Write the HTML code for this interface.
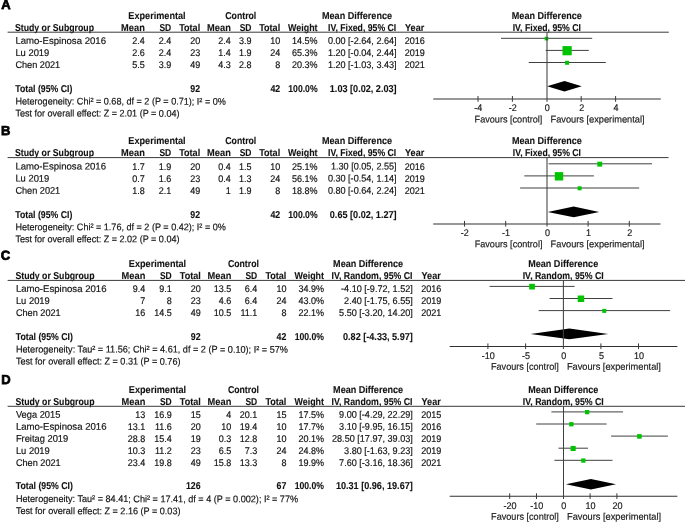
<!DOCTYPE html>
<html lang="en"><head><meta charset="utf-8"><title>Forest plots</title>
<style>
html,body{margin:0;padding:0;background:#fff;}
body{width:685px;height:522px;overflow:hidden;}
svg{display:block;font-family:"Liberation Sans",Arial,sans-serif;font-size:9.7px;fill:#111;}
svg text{white-space:pre;text-rendering:geometricPrecision;stroke:#111;stroke-width:0.17px;}
svg text.b{stroke-width:0.1px;}
</style></head><body>
<svg width="685" height="522" viewBox="0 0 685 522">
<rect x="0" y="0" width="685" height="522" fill="#fff"/>
<text x="1.3" y="9.0" font-weight="700" font-size="13" fill="#000" style="stroke:#000;stroke-width:0.75px;stroke-linejoin:miter" transform="rotate(0.03 5 9.0)">A</text>
<text x="157.0" y="18.70" text-anchor="middle" font-weight="700" textLength="57.3" lengthAdjust="spacingAndGlyphs" font-size="10.0" class="b" transform="rotate(0.03 157 18.7)">Experimental</text>
<text x="240.8" y="18.70" text-anchor="middle" font-weight="700" textLength="31.0" lengthAdjust="spacingAndGlyphs" font-size="10.0" class="b" transform="rotate(0.03 241 18.7)">Control</text>
<text x="357.0" y="18.70" text-anchor="middle" font-weight="700" textLength="70.0" lengthAdjust="spacingAndGlyphs" font-size="10.0" class="b" transform="rotate(0.03 357 18.7)">Mean Difference</text>
<text x="546.8" y="18.70" text-anchor="middle" font-weight="700" textLength="70.0" lengthAdjust="spacingAndGlyphs" font-size="10.0" class="b" transform="rotate(0.03 547 18.7)">Mean Difference</text>
<text x="14.9" y="31.00" font-weight="700" textLength="79.1" lengthAdjust="spacingAndGlyphs" font-size="10.0" class="b" transform="rotate(0.03 54 31.0)">Study or Subgroup</text>
<text x="144.8" y="31.00" text-anchor="end" font-weight="700" textLength="23.7" lengthAdjust="spacingAndGlyphs" font-size="10.0" class="b" transform="rotate(0.03 133 31.0)">Mean</text>
<text x="171.2" y="31.00" text-anchor="end" font-weight="700" textLength="11.8" lengthAdjust="spacingAndGlyphs" font-size="10.0" class="b" transform="rotate(0.03 165 31.0)">SD</text>
<text x="200.2" y="31.00" text-anchor="end" font-weight="700" textLength="21.0" lengthAdjust="spacingAndGlyphs" font-size="10.0" class="b" transform="rotate(0.03 190 31.0)">Total</text>
<text x="230.8" y="31.00" text-anchor="end" font-weight="700" textLength="23.7" lengthAdjust="spacingAndGlyphs" font-size="10.0" class="b" transform="rotate(0.03 219 31.0)">Mean</text>
<text x="251.5" y="31.00" text-anchor="end" font-weight="700" textLength="11.8" lengthAdjust="spacingAndGlyphs" font-size="10.0" class="b" transform="rotate(0.03 246 31.0)">SD</text>
<text x="280.2" y="31.00" text-anchor="end" font-weight="700" textLength="21.0" lengthAdjust="spacingAndGlyphs" font-size="10.0" class="b" transform="rotate(0.03 270 31.0)">Total</text>
<text x="317.6" y="31.00" text-anchor="end" font-weight="700" textLength="29.5" lengthAdjust="spacingAndGlyphs" font-size="10.0" class="b" transform="rotate(0.03 303 31.0)">Weight</text>
<text x="328.0" y="31.00" font-weight="700" textLength="68.2" lengthAdjust="spacingAndGlyphs" font-size="10.0" class="b" transform="rotate(0.03 362 31.0)">IV, Fixed, 95% CI</text>
<text x="405.1" y="31.00" font-weight="700" textLength="19.1" lengthAdjust="spacingAndGlyphs" font-size="10.0" class="b" transform="rotate(0.03 415 31.0)">Year</text>
<text x="546.8" y="31.00" text-anchor="middle" font-weight="700" textLength="68.2" lengthAdjust="spacingAndGlyphs" font-size="10.0" class="b" transform="rotate(0.03 547 31.0)">IV, Fixed, 95% CI</text>
<line x1="7.6" y1="32.2" x2="668.8" y2="32.2" stroke="#3a3a3a" stroke-width="1"/>
<text x="15.4" y="43.90" textLength="90.6" lengthAdjust="spacingAndGlyphs" transform="rotate(0.03 61 43.9)">Lamo-Espinosa 2016</text>
<text x="144.8" y="43.90" text-anchor="end" textLength="12.5" lengthAdjust="spacingAndGlyphs" transform="rotate(0.03 139 43.9)">2.4</text>
<text x="171.2" y="43.90" text-anchor="end" textLength="12.5" lengthAdjust="spacingAndGlyphs" transform="rotate(0.03 165 43.9)">2.4</text>
<text x="200.2" y="43.90" text-anchor="end" textLength="10.0" lengthAdjust="spacingAndGlyphs" transform="rotate(0.03 195 43.9)">20</text>
<text x="230.8" y="43.90" text-anchor="end" textLength="12.5" lengthAdjust="spacingAndGlyphs" transform="rotate(0.03 225 43.9)">2.4</text>
<text x="251.5" y="43.90" text-anchor="end" textLength="12.5" lengthAdjust="spacingAndGlyphs" transform="rotate(0.03 245 43.9)">3.9</text>
<text x="280.2" y="43.90" text-anchor="end" textLength="10.0" lengthAdjust="spacingAndGlyphs" transform="rotate(0.03 275 43.9)">10</text>
<text x="317.6" y="43.90" text-anchor="end" textLength="25.5" lengthAdjust="spacingAndGlyphs" transform="rotate(0.03 305 43.9)">14.5%</text>
<text x="396.6" y="43.90" text-anchor="end" textLength="68.7" lengthAdjust="spacingAndGlyphs" transform="rotate(0.03 362 43.9)">0.00 [-2.64, 2.64]</text>
<text x="404.8" y="43.90" textLength="20.1" lengthAdjust="spacingAndGlyphs" transform="rotate(0.03 415 43.9)">2016</text>
<line x1="501.0" y1="38.3" x2="592.2" y2="38.3" stroke="#404040" stroke-width="1"/>
<rect x="544.7" y="36.8" width="3.6" height="3.6" fill="#00c400"/>
<text x="15.4" y="55.98" textLength="33.9" lengthAdjust="spacingAndGlyphs" transform="rotate(0.03 32 56.0)">Lu 2019</text>
<text x="144.8" y="55.98" text-anchor="end" textLength="12.5" lengthAdjust="spacingAndGlyphs" transform="rotate(0.03 139 56.0)">2.6</text>
<text x="171.2" y="55.98" text-anchor="end" textLength="12.5" lengthAdjust="spacingAndGlyphs" transform="rotate(0.03 165 56.0)">2.4</text>
<text x="200.2" y="55.98" text-anchor="end" textLength="10.0" lengthAdjust="spacingAndGlyphs" transform="rotate(0.03 195 56.0)">23</text>
<text x="230.8" y="55.98" text-anchor="end" textLength="12.5" lengthAdjust="spacingAndGlyphs" transform="rotate(0.03 225 56.0)">1.4</text>
<text x="251.5" y="55.98" text-anchor="end" textLength="12.5" lengthAdjust="spacingAndGlyphs" transform="rotate(0.03 245 56.0)">1.9</text>
<text x="280.2" y="55.98" text-anchor="end" textLength="10.0" lengthAdjust="spacingAndGlyphs" transform="rotate(0.03 275 56.0)">24</text>
<text x="317.6" y="55.98" text-anchor="end" textLength="25.5" lengthAdjust="spacingAndGlyphs" transform="rotate(0.03 305 56.0)">65.3%</text>
<text x="396.6" y="55.98" text-anchor="end" textLength="68.7" lengthAdjust="spacingAndGlyphs" transform="rotate(0.03 362 56.0)">1.20 [-0.04, 2.44]</text>
<text x="404.8" y="55.98" textLength="20.1" lengthAdjust="spacingAndGlyphs" transform="rotate(0.03 415 56.0)">2019</text>
<line x1="545.7" y1="50.4" x2="588.8" y2="50.4" stroke="#404040" stroke-width="1"/>
<rect x="562.5" y="46.1" width="9.2" height="9.2" fill="#00c400"/>
<text x="15.4" y="68.06" textLength="44.8" lengthAdjust="spacingAndGlyphs" transform="rotate(0.03 38 68.1)">Chen 2021</text>
<text x="144.8" y="68.06" text-anchor="end" textLength="12.5" lengthAdjust="spacingAndGlyphs" transform="rotate(0.03 139 68.1)">5.5</text>
<text x="171.2" y="68.06" text-anchor="end" textLength="12.5" lengthAdjust="spacingAndGlyphs" transform="rotate(0.03 165 68.1)">3.9</text>
<text x="200.2" y="68.06" text-anchor="end" textLength="10.0" lengthAdjust="spacingAndGlyphs" transform="rotate(0.03 195 68.1)">49</text>
<text x="230.8" y="68.06" text-anchor="end" textLength="12.5" lengthAdjust="spacingAndGlyphs" transform="rotate(0.03 225 68.1)">4.3</text>
<text x="251.5" y="68.06" text-anchor="end" textLength="12.5" lengthAdjust="spacingAndGlyphs" transform="rotate(0.03 245 68.1)">2.8</text>
<text x="280.2" y="68.06" text-anchor="end" textLength="5.0" lengthAdjust="spacingAndGlyphs" transform="rotate(0.03 278 68.1)">8</text>
<text x="317.6" y="68.06" text-anchor="end" textLength="25.5" lengthAdjust="spacingAndGlyphs" transform="rotate(0.03 305 68.1)">20.3%</text>
<text x="396.6" y="68.06" text-anchor="end" textLength="68.7" lengthAdjust="spacingAndGlyphs" transform="rotate(0.03 362 68.1)">1.20 [-1.03, 3.43]</text>
<text x="404.8" y="68.06" textLength="20.1" lengthAdjust="spacingAndGlyphs" transform="rotate(0.03 415 68.1)">2021</text>
<line x1="528.7" y1="62.5" x2="605.8" y2="62.5" stroke="#404040" stroke-width="1"/>
<rect x="565.1" y="60.8" width="4.0" height="4.0" fill="#00c400"/>
<text x="15.3" y="91.90" font-weight="700" textLength="57.0" lengthAdjust="spacingAndGlyphs" font-size="10.0" class="b" transform="rotate(0.03 44 91.9)">Total (95% CI)</text>
<text x="200.1" y="91.90" text-anchor="end" font-weight="700" textLength="9.8" lengthAdjust="spacingAndGlyphs" font-size="10.0" class="b" transform="rotate(0.03 195 91.9)">92</text>
<text x="280.2" y="91.90" text-anchor="end" font-weight="700" textLength="9.8" lengthAdjust="spacingAndGlyphs" font-size="10.0" class="b" transform="rotate(0.03 275 91.9)">42</text>
<text x="317.6" y="91.90" text-anchor="end" font-weight="700" textLength="29.3" lengthAdjust="spacingAndGlyphs" font-size="10.0" class="b" transform="rotate(0.03 303 91.9)">100.0%</text>
<text x="396.6" y="91.90" text-anchor="end" font-weight="700" textLength="66.8" lengthAdjust="spacingAndGlyphs" font-size="10.0" class="b" transform="rotate(0.03 363 91.9)">1.03 [0.02, 2.03]</text>
<text x="15.4" y="104.60" textLength="210.4" lengthAdjust="spacingAndGlyphs" transform="rotate(0.03 121 104.6)">Heterogeneity: Chi² = 0.68, df = 2 (P = 0.71); I² = 0%</text>
<text x="15.4" y="116.60" textLength="164.1" lengthAdjust="spacingAndGlyphs" transform="rotate(0.03 97 116.6)">Test for overall effect: Z = 2.01 (P = 0.04)</text>
<polygon points="547.1,86.2 564.5,81.0 581.7,86.2 564.5,91.5" fill="#000"/>
<line x1="433.2" y1="99.0" x2="660.8" y2="99.0" stroke="#303030" stroke-width="1.05"/>
<line x1="547.0" y1="32.2" x2="547.0" y2="101.8" stroke="#404040" stroke-width="1.05"/>
<line x1="478.0" y1="96.0" x2="478.0" y2="101.8" stroke="#3a3a3a" stroke-width="1"/>
<text x="478.3" y="111.25" text-anchor="middle" textLength="8.0" lengthAdjust="spacingAndGlyphs" fill="#222" transform="rotate(0.03 478 111.2)">-4</text>
<line x1="512.4" y1="96.0" x2="512.4" y2="101.8" stroke="#3a3a3a" stroke-width="1"/>
<text x="512.7" y="111.25" text-anchor="middle" textLength="8.0" lengthAdjust="spacingAndGlyphs" fill="#222" transform="rotate(0.03 513 111.2)">-2</text>
<text x="547.3" y="111.25" text-anchor="middle" textLength="5.0" lengthAdjust="spacingAndGlyphs" fill="#222" transform="rotate(0.03 547 111.2)">0</text>
<line x1="581.2" y1="96.0" x2="581.2" y2="101.8" stroke="#3a3a3a" stroke-width="1"/>
<text x="581.7" y="111.25" text-anchor="middle" textLength="5.0" lengthAdjust="spacingAndGlyphs" fill="#222" transform="rotate(0.03 582 111.2)">2</text>
<line x1="615.6" y1="96.0" x2="615.6" y2="101.8" stroke="#3a3a3a" stroke-width="1"/>
<text x="616.1" y="111.25" text-anchor="middle" textLength="5.0" lengthAdjust="spacingAndGlyphs" fill="#222" transform="rotate(0.03 616 111.2)">4</text>
<text x="474.6" y="122.42" textLength="67.8" lengthAdjust="spacingAndGlyphs" fill="#222" transform="rotate(0.03 508 122.4)">Favours [control]</text>
<text x="550.5" y="122.42" textLength="94.0" lengthAdjust="spacingAndGlyphs" fill="#222" transform="rotate(0.03 598 122.4)">Favours [experimental]</text>
<text x="1.0" y="135.0" font-weight="700" font-size="13" fill="#000" style="stroke:#000;stroke-width:0.75px;stroke-linejoin:miter" transform="rotate(0.03 5 135.0)">B</text>
<text x="157.0" y="144.05" text-anchor="middle" font-weight="700" textLength="57.3" lengthAdjust="spacingAndGlyphs" font-size="10.0" class="b" transform="rotate(0.03 157 144.0)">Experimental</text>
<text x="240.8" y="144.05" text-anchor="middle" font-weight="700" textLength="31.0" lengthAdjust="spacingAndGlyphs" font-size="10.0" class="b" transform="rotate(0.03 241 144.0)">Control</text>
<text x="357.0" y="144.05" text-anchor="middle" font-weight="700" textLength="70.0" lengthAdjust="spacingAndGlyphs" font-size="10.0" class="b" transform="rotate(0.03 357 144.0)">Mean Difference</text>
<text x="546.9" y="144.05" text-anchor="middle" font-weight="700" textLength="70.0" lengthAdjust="spacingAndGlyphs" font-size="10.0" class="b" transform="rotate(0.03 547 144.0)">Mean Difference</text>
<text x="14.9" y="156.35" font-weight="700" textLength="79.1" lengthAdjust="spacingAndGlyphs" font-size="10.0" class="b" transform="rotate(0.03 54 156.3)">Study or Subgroup</text>
<text x="144.8" y="156.35" text-anchor="end" font-weight="700" textLength="23.7" lengthAdjust="spacingAndGlyphs" font-size="10.0" class="b" transform="rotate(0.03 133 156.3)">Mean</text>
<text x="171.2" y="156.35" text-anchor="end" font-weight="700" textLength="11.8" lengthAdjust="spacingAndGlyphs" font-size="10.0" class="b" transform="rotate(0.03 165 156.3)">SD</text>
<text x="200.2" y="156.35" text-anchor="end" font-weight="700" textLength="21.0" lengthAdjust="spacingAndGlyphs" font-size="10.0" class="b" transform="rotate(0.03 190 156.3)">Total</text>
<text x="230.8" y="156.35" text-anchor="end" font-weight="700" textLength="23.7" lengthAdjust="spacingAndGlyphs" font-size="10.0" class="b" transform="rotate(0.03 219 156.3)">Mean</text>
<text x="251.5" y="156.35" text-anchor="end" font-weight="700" textLength="11.8" lengthAdjust="spacingAndGlyphs" font-size="10.0" class="b" transform="rotate(0.03 246 156.3)">SD</text>
<text x="280.2" y="156.35" text-anchor="end" font-weight="700" textLength="21.0" lengthAdjust="spacingAndGlyphs" font-size="10.0" class="b" transform="rotate(0.03 270 156.3)">Total</text>
<text x="317.6" y="156.35" text-anchor="end" font-weight="700" textLength="29.5" lengthAdjust="spacingAndGlyphs" font-size="10.0" class="b" transform="rotate(0.03 303 156.3)">Weight</text>
<text x="328.0" y="156.35" font-weight="700" textLength="68.2" lengthAdjust="spacingAndGlyphs" font-size="10.0" class="b" transform="rotate(0.03 362 156.3)">IV, Fixed, 95% CI</text>
<text x="405.1" y="156.35" font-weight="700" textLength="19.1" lengthAdjust="spacingAndGlyphs" font-size="10.0" class="b" transform="rotate(0.03 415 156.3)">Year</text>
<text x="546.9" y="156.35" text-anchor="middle" font-weight="700" textLength="68.2" lengthAdjust="spacingAndGlyphs" font-size="10.0" class="b" transform="rotate(0.03 547 156.3)">IV, Fixed, 95% CI</text>
<line x1="7.6" y1="157.6" x2="668.5" y2="157.6" stroke="#3a3a3a" stroke-width="1"/>
<text x="15.4" y="169.58" textLength="90.6" lengthAdjust="spacingAndGlyphs" transform="rotate(0.03 61 169.6)">Lamo-Espinosa 2016</text>
<text x="144.8" y="169.58" text-anchor="end" textLength="12.5" lengthAdjust="spacingAndGlyphs" transform="rotate(0.03 139 169.6)">1.7</text>
<text x="171.2" y="169.58" text-anchor="end" textLength="12.5" lengthAdjust="spacingAndGlyphs" transform="rotate(0.03 165 169.6)">1.9</text>
<text x="200.2" y="169.58" text-anchor="end" textLength="10.0" lengthAdjust="spacingAndGlyphs" transform="rotate(0.03 195 169.6)">20</text>
<text x="230.8" y="169.58" text-anchor="end" textLength="12.5" lengthAdjust="spacingAndGlyphs" transform="rotate(0.03 225 169.6)">0.4</text>
<text x="251.5" y="169.58" text-anchor="end" textLength="12.5" lengthAdjust="spacingAndGlyphs" transform="rotate(0.03 245 169.6)">1.5</text>
<text x="280.2" y="169.58" text-anchor="end" textLength="10.0" lengthAdjust="spacingAndGlyphs" transform="rotate(0.03 275 169.6)">10</text>
<text x="317.6" y="169.58" text-anchor="end" textLength="25.5" lengthAdjust="spacingAndGlyphs" transform="rotate(0.03 305 169.6)">25.1%</text>
<text x="396.6" y="169.58" text-anchor="end" textLength="65.6" lengthAdjust="spacingAndGlyphs" transform="rotate(0.03 364 169.6)">1.30 [0.05, 2.55]</text>
<text x="404.8" y="169.58" textLength="20.1" lengthAdjust="spacingAndGlyphs" transform="rotate(0.03 415 169.6)">2016</text>
<line x1="548.6" y1="163.8" x2="652.0" y2="163.8" stroke="#404040" stroke-width="1"/>
<rect x="597.3" y="161.7" width="4.9" height="4.9" fill="#00c400"/>
<text x="15.4" y="181.63" textLength="33.9" lengthAdjust="spacingAndGlyphs" transform="rotate(0.03 32 181.6)">Lu 2019</text>
<text x="144.8" y="181.63" text-anchor="end" textLength="12.5" lengthAdjust="spacingAndGlyphs" transform="rotate(0.03 139 181.6)">0.7</text>
<text x="171.2" y="181.63" text-anchor="end" textLength="12.5" lengthAdjust="spacingAndGlyphs" transform="rotate(0.03 165 181.6)">1.6</text>
<text x="200.2" y="181.63" text-anchor="end" textLength="10.0" lengthAdjust="spacingAndGlyphs" transform="rotate(0.03 195 181.6)">23</text>
<text x="230.8" y="181.63" text-anchor="end" textLength="12.5" lengthAdjust="spacingAndGlyphs" transform="rotate(0.03 225 181.6)">0.4</text>
<text x="251.5" y="181.63" text-anchor="end" textLength="12.5" lengthAdjust="spacingAndGlyphs" transform="rotate(0.03 245 181.6)">1.3</text>
<text x="280.2" y="181.63" text-anchor="end" textLength="10.0" lengthAdjust="spacingAndGlyphs" transform="rotate(0.03 275 181.6)">24</text>
<text x="317.6" y="181.63" text-anchor="end" textLength="25.5" lengthAdjust="spacingAndGlyphs" transform="rotate(0.03 305 181.6)">56.1%</text>
<text x="396.6" y="181.63" text-anchor="end" textLength="68.7" lengthAdjust="spacingAndGlyphs" transform="rotate(0.03 362 181.6)">0.30 [-0.54, 1.14]</text>
<text x="404.8" y="181.63" textLength="20.1" lengthAdjust="spacingAndGlyphs" transform="rotate(0.03 415 181.6)">2019</text>
<line x1="524.3" y1="175.9" x2="593.9" y2="175.9" stroke="#404040" stroke-width="1"/>
<rect x="554.8" y="172.1" width="8.4" height="8.4" fill="#00c400"/>
<text x="15.4" y="193.71" textLength="44.8" lengthAdjust="spacingAndGlyphs" transform="rotate(0.03 38 193.7)">Chen 2021</text>
<text x="144.8" y="193.71" text-anchor="end" textLength="12.5" lengthAdjust="spacingAndGlyphs" transform="rotate(0.03 139 193.7)">1.8</text>
<text x="171.2" y="193.71" text-anchor="end" textLength="12.5" lengthAdjust="spacingAndGlyphs" transform="rotate(0.03 165 193.7)">2.1</text>
<text x="200.2" y="193.71" text-anchor="end" textLength="10.0" lengthAdjust="spacingAndGlyphs" transform="rotate(0.03 195 193.7)">49</text>
<text x="230.8" y="193.71" text-anchor="end" textLength="5.0" lengthAdjust="spacingAndGlyphs" transform="rotate(0.03 228 193.7)">1</text>
<text x="251.5" y="193.71" text-anchor="end" textLength="12.5" lengthAdjust="spacingAndGlyphs" transform="rotate(0.03 245 193.7)">1.9</text>
<text x="280.2" y="193.71" text-anchor="end" textLength="5.0" lengthAdjust="spacingAndGlyphs" transform="rotate(0.03 278 193.7)">8</text>
<text x="317.6" y="193.71" text-anchor="end" textLength="25.5" lengthAdjust="spacingAndGlyphs" transform="rotate(0.03 305 193.7)">18.8%</text>
<text x="396.6" y="193.71" text-anchor="end" textLength="68.7" lengthAdjust="spacingAndGlyphs" transform="rotate(0.03 362 193.7)">0.80 [-0.64, 2.24]</text>
<text x="404.8" y="193.71" textLength="20.1" lengthAdjust="spacingAndGlyphs" transform="rotate(0.03 415 193.7)">2021</text>
<line x1="520.1" y1="188.0" x2="639.2" y2="188.0" stroke="#404040" stroke-width="1"/>
<rect x="577.6" y="186.3" width="4.0" height="4.0" fill="#00c400"/>
<text x="15.3" y="217.58" font-weight="700" textLength="57.0" lengthAdjust="spacingAndGlyphs" font-size="10.0" class="b" transform="rotate(0.03 44 217.6)">Total (95% CI)</text>
<text x="200.1" y="217.58" text-anchor="end" font-weight="700" textLength="9.8" lengthAdjust="spacingAndGlyphs" font-size="10.0" class="b" transform="rotate(0.03 195 217.6)">92</text>
<text x="280.2" y="217.58" text-anchor="end" font-weight="700" textLength="9.8" lengthAdjust="spacingAndGlyphs" font-size="10.0" class="b" transform="rotate(0.03 275 217.6)">42</text>
<text x="317.6" y="217.58" text-anchor="end" font-weight="700" textLength="29.3" lengthAdjust="spacingAndGlyphs" font-size="10.0" class="b" transform="rotate(0.03 303 217.6)">100.0%</text>
<text x="396.6" y="217.58" text-anchor="end" font-weight="700" textLength="66.8" lengthAdjust="spacingAndGlyphs" font-size="10.0" class="b" transform="rotate(0.03 363 217.6)">0.65 [0.02, 1.27]</text>
<text x="15.4" y="230.25" textLength="210.4" lengthAdjust="spacingAndGlyphs" transform="rotate(0.03 121 230.2)">Heterogeneity: Chi² = 1.76, df = 2 (P = 0.42); I² = 0%</text>
<text x="15.4" y="242.25" textLength="164.1" lengthAdjust="spacingAndGlyphs" transform="rotate(0.03 97 242.2)">Test for overall effect: Z = 2.02 (P = 0.04)</text>
<polygon points="547.7,211.9 573.7,206.6 599.2,211.9 573.7,217.2" fill="#000"/>
<line x1="433.2" y1="223.9" x2="660.5" y2="223.9" stroke="#303030" stroke-width="1.05"/>
<line x1="547.0" y1="157.6" x2="547.0" y2="226.6" stroke="#404040" stroke-width="1.05"/>
<line x1="464.5" y1="220.9" x2="464.5" y2="226.6" stroke="#3a3a3a" stroke-width="1"/>
<text x="464.8" y="236.10" text-anchor="middle" textLength="8.0" lengthAdjust="spacingAndGlyphs" fill="#222" transform="rotate(0.03 465 236.1)">-2</text>
<line x1="505.7" y1="220.9" x2="505.7" y2="226.6" stroke="#3a3a3a" stroke-width="1"/>
<text x="506.0" y="236.10" text-anchor="middle" textLength="8.0" lengthAdjust="spacingAndGlyphs" fill="#222" transform="rotate(0.03 506 236.1)">-1</text>
<text x="547.4" y="236.10" text-anchor="middle" textLength="5.0" lengthAdjust="spacingAndGlyphs" fill="#222" transform="rotate(0.03 547 236.1)">0</text>
<line x1="588.1" y1="220.9" x2="588.1" y2="226.6" stroke="#3a3a3a" stroke-width="1"/>
<text x="588.6" y="236.10" text-anchor="middle" textLength="5.0" lengthAdjust="spacingAndGlyphs" fill="#222" transform="rotate(0.03 589 236.1)">1</text>
<line x1="629.3" y1="220.9" x2="629.3" y2="226.6" stroke="#3a3a3a" stroke-width="1"/>
<text x="629.8" y="236.10" text-anchor="middle" textLength="5.0" lengthAdjust="spacingAndGlyphs" fill="#222" transform="rotate(0.03 630 236.1)">2</text>
<text x="474.7" y="247.30" textLength="67.8" lengthAdjust="spacingAndGlyphs" fill="#222" transform="rotate(0.03 509 247.3)">Favours [control]</text>
<text x="550.6" y="247.30" textLength="94.0" lengthAdjust="spacingAndGlyphs" fill="#222" transform="rotate(0.03 598 247.3)">Favours [experimental]</text>
<text x="0.7" y="259.7" font-weight="700" font-size="13" fill="#000" style="stroke:#000;stroke-width:0.75px;stroke-linejoin:miter" transform="rotate(0.03 5 259.7)">C</text>
<text x="157.5" y="266.70" text-anchor="middle" font-weight="700" textLength="57.3" lengthAdjust="spacingAndGlyphs" font-size="10.0" class="b" transform="rotate(0.03 158 266.7)">Experimental</text>
<text x="243.4" y="266.70" text-anchor="middle" font-weight="700" textLength="31.0" lengthAdjust="spacingAndGlyphs" font-size="10.0" class="b" transform="rotate(0.03 243 266.7)">Control</text>
<text x="368.1" y="266.70" text-anchor="middle" font-weight="700" textLength="70.0" lengthAdjust="spacingAndGlyphs" font-size="10.0" class="b" transform="rotate(0.03 368 266.7)">Mean Difference</text>
<text x="563.2" y="266.70" text-anchor="middle" font-weight="700" textLength="70.0" lengthAdjust="spacingAndGlyphs" font-size="10.0" class="b" transform="rotate(0.03 563 266.7)">Mean Difference</text>
<text x="15.4" y="279.00" font-weight="700" textLength="79.1" lengthAdjust="spacingAndGlyphs" font-size="10.0" class="b" transform="rotate(0.03 55 279.0)">Study or Subgroup</text>
<text x="145.3" y="279.00" text-anchor="end" font-weight="700" textLength="23.7" lengthAdjust="spacingAndGlyphs" font-size="10.0" class="b" transform="rotate(0.03 134 279.0)">Mean</text>
<text x="171.7" y="279.00" text-anchor="end" font-weight="700" textLength="11.8" lengthAdjust="spacingAndGlyphs" font-size="10.0" class="b" transform="rotate(0.03 166 279.0)">SD</text>
<text x="200.8" y="279.00" text-anchor="end" font-weight="700" textLength="21.0" lengthAdjust="spacingAndGlyphs" font-size="10.0" class="b" transform="rotate(0.03 190 279.0)">Total</text>
<text x="231.3" y="279.00" text-anchor="end" font-weight="700" textLength="23.7" lengthAdjust="spacingAndGlyphs" font-size="10.0" class="b" transform="rotate(0.03 220 279.0)">Mean</text>
<text x="257.2" y="279.00" text-anchor="end" font-weight="700" textLength="11.8" lengthAdjust="spacingAndGlyphs" font-size="10.0" class="b" transform="rotate(0.03 251 279.0)">SD</text>
<text x="286.4" y="279.00" text-anchor="end" font-weight="700" textLength="21.0" lengthAdjust="spacingAndGlyphs" font-size="10.0" class="b" transform="rotate(0.03 276 279.0)">Total</text>
<text x="324.0" y="279.00" text-anchor="end" font-weight="700" textLength="29.5" lengthAdjust="spacingAndGlyphs" font-size="10.0" class="b" transform="rotate(0.03 309 279.0)">Weight</text>
<text x="331.5" y="279.00" font-weight="700" textLength="81.0" lengthAdjust="spacingAndGlyphs" font-size="10.0" class="b" transform="rotate(0.03 372 279.0)">IV, Random, 95% CI</text>
<text x="421.6" y="279.00" font-weight="700" textLength="19.1" lengthAdjust="spacingAndGlyphs" font-size="10.0" class="b" transform="rotate(0.03 431 279.0)">Year</text>
<text x="563.2" y="279.00" text-anchor="middle" font-weight="700" textLength="81.0" lengthAdjust="spacingAndGlyphs" font-size="10.0" class="b" transform="rotate(0.03 563 279.0)">IV, Random, 95% CI</text>
<line x1="7.6" y1="280.4" x2="685.0" y2="280.4" stroke="#3a3a3a" stroke-width="1"/>
<text x="15.9" y="291.90" textLength="90.6" lengthAdjust="spacingAndGlyphs" transform="rotate(0.03 61 291.9)">Lamo-Espinosa 2016</text>
<text x="145.3" y="291.90" text-anchor="end" textLength="12.5" lengthAdjust="spacingAndGlyphs" transform="rotate(0.03 139 291.9)">9.4</text>
<text x="171.7" y="291.90" text-anchor="end" textLength="12.5" lengthAdjust="spacingAndGlyphs" transform="rotate(0.03 165 291.9)">9.1</text>
<text x="200.8" y="291.90" text-anchor="end" textLength="10.0" lengthAdjust="spacingAndGlyphs" transform="rotate(0.03 196 291.9)">20</text>
<text x="231.3" y="291.90" text-anchor="end" textLength="17.5" lengthAdjust="spacingAndGlyphs" transform="rotate(0.03 223 291.9)">13.5</text>
<text x="257.2" y="291.90" text-anchor="end" textLength="12.5" lengthAdjust="spacingAndGlyphs" transform="rotate(0.03 251 291.9)">6.4</text>
<text x="286.4" y="291.90" text-anchor="end" textLength="10.0" lengthAdjust="spacingAndGlyphs" transform="rotate(0.03 281 291.9)">10</text>
<text x="324.0" y="291.90" text-anchor="end" textLength="25.5" lengthAdjust="spacingAndGlyphs" transform="rotate(0.03 311 291.9)">34.9%</text>
<text x="412.8" y="291.90" text-anchor="end" textLength="71.7" lengthAdjust="spacingAndGlyphs" transform="rotate(0.03 377 291.9)">-4.10 [-9.72, 1.52]</text>
<text x="421.3" y="291.90" textLength="20.1" lengthAdjust="spacingAndGlyphs" transform="rotate(0.03 431 291.9)">2016</text>
<line x1="489.6" y1="286.4" x2="574.6" y2="286.4" stroke="#404040" stroke-width="1"/>
<rect x="529.2" y="283.8" width="5.7" height="5.7" fill="#00c400"/>
<text x="15.9" y="303.98" textLength="33.9" lengthAdjust="spacingAndGlyphs" transform="rotate(0.03 33 304.0)">Lu 2019</text>
<text x="145.3" y="303.98" text-anchor="end" textLength="5.0" lengthAdjust="spacingAndGlyphs" transform="rotate(0.03 143 304.0)">7</text>
<text x="171.7" y="303.98" text-anchor="end" textLength="5.0" lengthAdjust="spacingAndGlyphs" transform="rotate(0.03 169 304.0)">8</text>
<text x="200.8" y="303.98" text-anchor="end" textLength="10.0" lengthAdjust="spacingAndGlyphs" transform="rotate(0.03 196 304.0)">23</text>
<text x="231.3" y="303.98" text-anchor="end" textLength="12.5" lengthAdjust="spacingAndGlyphs" transform="rotate(0.03 225 304.0)">4.6</text>
<text x="257.2" y="303.98" text-anchor="end" textLength="12.5" lengthAdjust="spacingAndGlyphs" transform="rotate(0.03 251 304.0)">6.4</text>
<text x="286.4" y="303.98" text-anchor="end" textLength="10.0" lengthAdjust="spacingAndGlyphs" transform="rotate(0.03 281 304.0)">24</text>
<text x="324.0" y="303.98" text-anchor="end" textLength="25.5" lengthAdjust="spacingAndGlyphs" transform="rotate(0.03 311 304.0)">43.0%</text>
<text x="412.8" y="303.98" text-anchor="end" textLength="68.7" lengthAdjust="spacingAndGlyphs" transform="rotate(0.03 378 304.0)">2.40 [-1.75, 6.55]</text>
<text x="421.3" y="303.98" textLength="20.1" lengthAdjust="spacingAndGlyphs" transform="rotate(0.03 431 304.0)">2019</text>
<line x1="549.6" y1="298.5" x2="612.5" y2="298.5" stroke="#404040" stroke-width="1"/>
<rect x="577.7" y="295.5" width="6.5" height="6.5" fill="#00c400"/>
<text x="15.9" y="316.06" textLength="44.8" lengthAdjust="spacingAndGlyphs" transform="rotate(0.03 38 316.1)">Chen 2021</text>
<text x="145.3" y="316.06" text-anchor="end" textLength="10.0" lengthAdjust="spacingAndGlyphs" transform="rotate(0.03 140 316.1)">16</text>
<text x="171.7" y="316.06" text-anchor="end" textLength="17.5" lengthAdjust="spacingAndGlyphs" transform="rotate(0.03 163 316.1)">14.5</text>
<text x="200.8" y="316.06" text-anchor="end" textLength="10.0" lengthAdjust="spacingAndGlyphs" transform="rotate(0.03 196 316.1)">49</text>
<text x="231.3" y="316.06" text-anchor="end" textLength="17.5" lengthAdjust="spacingAndGlyphs" transform="rotate(0.03 223 316.1)">10.5</text>
<text x="257.2" y="316.06" text-anchor="end" textLength="16.8" lengthAdjust="spacingAndGlyphs" transform="rotate(0.03 249 316.1)">11.1</text>
<text x="286.4" y="316.06" text-anchor="end" textLength="5.0" lengthAdjust="spacingAndGlyphs" transform="rotate(0.03 284 316.1)">8</text>
<text x="324.0" y="316.06" text-anchor="end" textLength="25.5" lengthAdjust="spacingAndGlyphs" transform="rotate(0.03 311 316.1)">22.1%</text>
<text x="412.8" y="316.06" text-anchor="end" textLength="73.7" lengthAdjust="spacingAndGlyphs" transform="rotate(0.03 376 316.1)">5.50 [-3.20, 14.20]</text>
<text x="421.3" y="316.06" textLength="20.1" lengthAdjust="spacingAndGlyphs" transform="rotate(0.03 431 316.1)">2021</text>
<line x1="538.7" y1="310.6" x2="670.1" y2="310.6" stroke="#404040" stroke-width="1"/>
<rect x="602.3" y="308.9" width="4.0" height="4.0" fill="#00c400"/>
<text x="15.8" y="339.90" font-weight="700" textLength="57.0" lengthAdjust="spacingAndGlyphs" font-size="10.0" class="b" transform="rotate(0.03 44 339.9)">Total (95% CI)</text>
<text x="200.6" y="339.90" text-anchor="end" font-weight="700" textLength="9.8" lengthAdjust="spacingAndGlyphs" font-size="10.0" class="b" transform="rotate(0.03 196 339.9)">92</text>
<text x="286.4" y="339.90" text-anchor="end" font-weight="700" textLength="9.8" lengthAdjust="spacingAndGlyphs" font-size="10.0" class="b" transform="rotate(0.03 281 339.9)">42</text>
<text x="324.0" y="339.90" text-anchor="end" font-weight="700" textLength="29.3" lengthAdjust="spacingAndGlyphs" font-size="10.0" class="b" transform="rotate(0.03 309 339.9)">100.0%</text>
<text x="412.8" y="339.90" text-anchor="end" font-weight="700" textLength="69.8" lengthAdjust="spacingAndGlyphs" font-size="10.0" class="b" transform="rotate(0.03 378 339.9)">0.82 [-4.33, 5.97]</text>
<text x="15.9" y="352.60" textLength="272.0" lengthAdjust="spacingAndGlyphs" transform="rotate(0.03 152 352.6)">Heterogeneity: Tau² = 11.56; Chi² = 4.61, df = 2 (P = 0.10); I² = 57%</text>
<text x="15.9" y="364.60" textLength="164.6" lengthAdjust="spacingAndGlyphs" transform="rotate(0.03 98 364.6)">Test for overall effect: Z = 0.31 (P = 0.76)</text>
<polygon points="530.6,333.9 569.4,328.6 608.2,333.9 569.4,339.2" fill="#000"/>
<line x1="449.7" y1="346.4" x2="677.4" y2="346.4" stroke="#303030" stroke-width="1.05"/>
<line x1="563.4" y1="280.4" x2="563.4" y2="349.1" stroke="#404040" stroke-width="1.05"/>
<line x1="487.9" y1="343.4" x2="487.9" y2="349.1" stroke="#3a3a3a" stroke-width="1"/>
<text x="488.2" y="358.60" text-anchor="middle" textLength="13.0" lengthAdjust="spacingAndGlyphs" fill="#222" transform="rotate(0.03 488 358.6)">-10</text>
<line x1="525.6" y1="343.4" x2="525.6" y2="349.1" stroke="#3a3a3a" stroke-width="1"/>
<text x="525.9" y="358.60" text-anchor="middle" textLength="8.0" lengthAdjust="spacingAndGlyphs" fill="#222" transform="rotate(0.03 526 358.6)">-5</text>
<text x="563.7" y="358.60" text-anchor="middle" textLength="5.0" lengthAdjust="spacingAndGlyphs" fill="#222" transform="rotate(0.03 564 358.6)">0</text>
<line x1="600.9" y1="343.4" x2="600.9" y2="349.1" stroke="#3a3a3a" stroke-width="1"/>
<text x="601.4" y="358.60" text-anchor="middle" textLength="5.0" lengthAdjust="spacingAndGlyphs" fill="#222" transform="rotate(0.03 601 358.6)">5</text>
<line x1="638.5" y1="343.4" x2="638.5" y2="349.1" stroke="#3a3a3a" stroke-width="1"/>
<text x="639.0" y="358.60" text-anchor="middle" textLength="10.0" lengthAdjust="spacingAndGlyphs" fill="#222" transform="rotate(0.03 639 358.6)">10</text>
<text x="491.0" y="369.80" textLength="67.8" lengthAdjust="spacingAndGlyphs" fill="#222" transform="rotate(0.03 525 369.8)">Favours [control]</text>
<text x="566.9" y="369.80" textLength="94.0" lengthAdjust="spacingAndGlyphs" fill="#222" transform="rotate(0.03 614 369.8)">Favours [experimental]</text>
<text x="1.3" y="384.0" font-weight="700" font-size="13" fill="#000" style="stroke:#000;stroke-width:0.75px;stroke-linejoin:miter" transform="rotate(0.03 5 384.0)">D</text>
<text x="157.5" y="392.58" text-anchor="middle" font-weight="700" textLength="57.3" lengthAdjust="spacingAndGlyphs" font-size="10.0" class="b" transform="rotate(0.03 158 392.6)">Experimental</text>
<text x="243.4" y="392.58" text-anchor="middle" font-weight="700" textLength="31.0" lengthAdjust="spacingAndGlyphs" font-size="10.0" class="b" transform="rotate(0.03 243 392.6)">Control</text>
<text x="368.1" y="392.58" text-anchor="middle" font-weight="700" textLength="70.0" lengthAdjust="spacingAndGlyphs" font-size="10.0" class="b" transform="rotate(0.03 368 392.6)">Mean Difference</text>
<text x="563.3" y="392.58" text-anchor="middle" font-weight="700" textLength="70.0" lengthAdjust="spacingAndGlyphs" font-size="10.0" class="b" transform="rotate(0.03 563 392.6)">Mean Difference</text>
<text x="15.4" y="404.80" font-weight="700" textLength="79.1" lengthAdjust="spacingAndGlyphs" font-size="10.0" class="b" transform="rotate(0.03 55 404.8)">Study or Subgroup</text>
<text x="145.3" y="404.80" text-anchor="end" font-weight="700" textLength="23.7" lengthAdjust="spacingAndGlyphs" font-size="10.0" class="b" transform="rotate(0.03 134 404.8)">Mean</text>
<text x="171.7" y="404.80" text-anchor="end" font-weight="700" textLength="11.8" lengthAdjust="spacingAndGlyphs" font-size="10.0" class="b" transform="rotate(0.03 166 404.8)">SD</text>
<text x="200.8" y="404.80" text-anchor="end" font-weight="700" textLength="21.0" lengthAdjust="spacingAndGlyphs" font-size="10.0" class="b" transform="rotate(0.03 190 404.8)">Total</text>
<text x="231.3" y="404.80" text-anchor="end" font-weight="700" textLength="23.7" lengthAdjust="spacingAndGlyphs" font-size="10.0" class="b" transform="rotate(0.03 220 404.8)">Mean</text>
<text x="257.2" y="404.80" text-anchor="end" font-weight="700" textLength="11.8" lengthAdjust="spacingAndGlyphs" font-size="10.0" class="b" transform="rotate(0.03 251 404.8)">SD</text>
<text x="286.4" y="404.80" text-anchor="end" font-weight="700" textLength="21.0" lengthAdjust="spacingAndGlyphs" font-size="10.0" class="b" transform="rotate(0.03 276 404.8)">Total</text>
<text x="324.0" y="404.80" text-anchor="end" font-weight="700" textLength="29.5" lengthAdjust="spacingAndGlyphs" font-size="10.0" class="b" transform="rotate(0.03 309 404.8)">Weight</text>
<text x="331.5" y="404.80" font-weight="700" textLength="81.0" lengthAdjust="spacingAndGlyphs" font-size="10.0" class="b" transform="rotate(0.03 372 404.8)">IV, Random, 95% CI</text>
<text x="421.6" y="404.80" font-weight="700" textLength="19.1" lengthAdjust="spacingAndGlyphs" font-size="10.0" class="b" transform="rotate(0.03 431 404.8)">Year</text>
<text x="563.3" y="404.80" text-anchor="middle" font-weight="700" textLength="81.0" lengthAdjust="spacingAndGlyphs" font-size="10.0" class="b" transform="rotate(0.03 563 404.8)">IV, Random, 95% CI</text>
<line x1="7.6" y1="406.3" x2="685.0" y2="406.3" stroke="#3a3a3a" stroke-width="1"/>
<text x="15.9" y="417.70" textLength="44.5" lengthAdjust="spacingAndGlyphs" transform="rotate(0.03 38 417.7)">Vega 2015</text>
<text x="145.3" y="417.70" text-anchor="end" textLength="10.0" lengthAdjust="spacingAndGlyphs" transform="rotate(0.03 140 417.7)">13</text>
<text x="171.7" y="417.70" text-anchor="end" textLength="17.5" lengthAdjust="spacingAndGlyphs" transform="rotate(0.03 163 417.7)">16.9</text>
<text x="200.8" y="417.70" text-anchor="end" textLength="10.0" lengthAdjust="spacingAndGlyphs" transform="rotate(0.03 196 417.7)">15</text>
<text x="231.3" y="417.70" text-anchor="end" textLength="5.0" lengthAdjust="spacingAndGlyphs" transform="rotate(0.03 229 417.7)">4</text>
<text x="257.2" y="417.70" text-anchor="end" textLength="17.5" lengthAdjust="spacingAndGlyphs" transform="rotate(0.03 248 417.7)">20.1</text>
<text x="286.4" y="417.70" text-anchor="end" textLength="10.0" lengthAdjust="spacingAndGlyphs" transform="rotate(0.03 281 417.7)">15</text>
<text x="324.0" y="417.70" text-anchor="end" textLength="25.5" lengthAdjust="spacingAndGlyphs" transform="rotate(0.03 311 417.7)">17.5%</text>
<text x="412.8" y="417.70" text-anchor="end" textLength="73.7" lengthAdjust="spacingAndGlyphs" transform="rotate(0.03 376 417.7)">9.00 [-4.29, 22.29]</text>
<text x="421.3" y="417.70" textLength="20.1" lengthAdjust="spacingAndGlyphs" transform="rotate(0.03 431 417.7)">2015</text>
<line x1="551.4" y1="411.9" x2="623.0" y2="411.9" stroke="#404040" stroke-width="1"/>
<rect x="585.0" y="410.0" width="4.3" height="4.3" fill="#00c400"/>
<text x="15.9" y="429.78" textLength="90.6" lengthAdjust="spacingAndGlyphs" transform="rotate(0.03 61 429.8)">Lamo-Espinosa 2016</text>
<text x="145.3" y="429.78" text-anchor="end" textLength="17.5" lengthAdjust="spacingAndGlyphs" transform="rotate(0.03 137 429.8)">13.1</text>
<text x="171.7" y="429.78" text-anchor="end" textLength="16.8" lengthAdjust="spacingAndGlyphs" transform="rotate(0.03 163 429.8)">11.6</text>
<text x="200.8" y="429.78" text-anchor="end" textLength="10.0" lengthAdjust="spacingAndGlyphs" transform="rotate(0.03 196 429.8)">20</text>
<text x="231.3" y="429.78" text-anchor="end" textLength="10.0" lengthAdjust="spacingAndGlyphs" transform="rotate(0.03 226 429.8)">10</text>
<text x="257.2" y="429.78" text-anchor="end" textLength="17.5" lengthAdjust="spacingAndGlyphs" transform="rotate(0.03 248 429.8)">19.4</text>
<text x="286.4" y="429.78" text-anchor="end" textLength="10.0" lengthAdjust="spacingAndGlyphs" transform="rotate(0.03 281 429.8)">10</text>
<text x="324.0" y="429.78" text-anchor="end" textLength="25.5" lengthAdjust="spacingAndGlyphs" transform="rotate(0.03 311 429.8)">17.7%</text>
<text x="412.8" y="429.78" text-anchor="end" textLength="73.7" lengthAdjust="spacingAndGlyphs" transform="rotate(0.03 376 429.8)">3.10 [-9.95, 16.15]</text>
<text x="421.3" y="429.78" textLength="20.1" lengthAdjust="spacingAndGlyphs" transform="rotate(0.03 431 429.8)">2016</text>
<line x1="536.2" y1="424.0" x2="606.6" y2="424.0" stroke="#404040" stroke-width="1"/>
<rect x="569.2" y="422.1" width="4.3" height="4.3" fill="#00c400"/>
<text x="15.9" y="441.86" textLength="52.3" lengthAdjust="spacingAndGlyphs" transform="rotate(0.03 42 441.9)">Freitag 2019</text>
<text x="145.3" y="441.86" text-anchor="end" textLength="17.5" lengthAdjust="spacingAndGlyphs" transform="rotate(0.03 137 441.9)">28.8</text>
<text x="171.7" y="441.86" text-anchor="end" textLength="17.5" lengthAdjust="spacingAndGlyphs" transform="rotate(0.03 163 441.9)">15.4</text>
<text x="200.8" y="441.86" text-anchor="end" textLength="10.0" lengthAdjust="spacingAndGlyphs" transform="rotate(0.03 196 441.9)">19</text>
<text x="231.3" y="441.86" text-anchor="end" textLength="12.5" lengthAdjust="spacingAndGlyphs" transform="rotate(0.03 225 441.9)">0.3</text>
<text x="257.2" y="441.86" text-anchor="end" textLength="17.5" lengthAdjust="spacingAndGlyphs" transform="rotate(0.03 248 441.9)">12.8</text>
<text x="286.4" y="441.86" text-anchor="end" textLength="10.0" lengthAdjust="spacingAndGlyphs" transform="rotate(0.03 281 441.9)">10</text>
<text x="324.0" y="441.86" text-anchor="end" textLength="25.5" lengthAdjust="spacingAndGlyphs" transform="rotate(0.03 311 441.9)">20.1%</text>
<text x="412.8" y="441.86" text-anchor="end" textLength="80.8" lengthAdjust="spacingAndGlyphs" transform="rotate(0.03 372 441.9)">28.50 [17.97, 39.03]</text>
<text x="421.3" y="441.86" textLength="20.1" lengthAdjust="spacingAndGlyphs" transform="rotate(0.03 431 441.9)">2019</text>
<line x1="611.1" y1="436.1" x2="667.9" y2="436.1" stroke="#404040" stroke-width="1"/>
<rect x="637.1" y="434.1" width="4.6" height="4.6" fill="#00c400"/>
<text x="15.9" y="453.94" textLength="33.9" lengthAdjust="spacingAndGlyphs" transform="rotate(0.03 33 453.9)">Lu 2019</text>
<text x="145.3" y="453.94" text-anchor="end" textLength="17.5" lengthAdjust="spacingAndGlyphs" transform="rotate(0.03 137 453.9)">10.3</text>
<text x="171.7" y="453.94" text-anchor="end" textLength="16.8" lengthAdjust="spacingAndGlyphs" transform="rotate(0.03 163 453.9)">11.2</text>
<text x="200.8" y="453.94" text-anchor="end" textLength="10.0" lengthAdjust="spacingAndGlyphs" transform="rotate(0.03 196 453.9)">23</text>
<text x="231.3" y="453.94" text-anchor="end" textLength="12.5" lengthAdjust="spacingAndGlyphs" transform="rotate(0.03 225 453.9)">6.5</text>
<text x="257.2" y="453.94" text-anchor="end" textLength="12.5" lengthAdjust="spacingAndGlyphs" transform="rotate(0.03 251 453.9)">7.3</text>
<text x="286.4" y="453.94" text-anchor="end" textLength="10.0" lengthAdjust="spacingAndGlyphs" transform="rotate(0.03 281 453.9)">24</text>
<text x="324.0" y="453.94" text-anchor="end" textLength="25.5" lengthAdjust="spacingAndGlyphs" transform="rotate(0.03 311 453.9)">24.8%</text>
<text x="412.8" y="453.94" text-anchor="end" textLength="68.7" lengthAdjust="spacingAndGlyphs" transform="rotate(0.03 378 453.9)">3.80 [-1.63, 9.23]</text>
<text x="421.3" y="453.94" textLength="20.1" lengthAdjust="spacingAndGlyphs" transform="rotate(0.03 431 453.9)">2019</text>
<line x1="558.5" y1="448.2" x2="588.0" y2="448.2" stroke="#404040" stroke-width="1"/>
<rect x="570.6" y="445.9" width="5.1" height="5.1" fill="#00c400"/>
<text x="15.9" y="466.02" textLength="44.8" lengthAdjust="spacingAndGlyphs" transform="rotate(0.03 38 466.0)">Chen 2021</text>
<text x="145.3" y="466.02" text-anchor="end" textLength="17.5" lengthAdjust="spacingAndGlyphs" transform="rotate(0.03 137 466.0)">23.4</text>
<text x="171.7" y="466.02" text-anchor="end" textLength="17.5" lengthAdjust="spacingAndGlyphs" transform="rotate(0.03 163 466.0)">19.8</text>
<text x="200.8" y="466.02" text-anchor="end" textLength="10.0" lengthAdjust="spacingAndGlyphs" transform="rotate(0.03 196 466.0)">49</text>
<text x="231.3" y="466.02" text-anchor="end" textLength="17.5" lengthAdjust="spacingAndGlyphs" transform="rotate(0.03 223 466.0)">15.8</text>
<text x="257.2" y="466.02" text-anchor="end" textLength="17.5" lengthAdjust="spacingAndGlyphs" transform="rotate(0.03 248 466.0)">13.3</text>
<text x="286.4" y="466.02" text-anchor="end" textLength="5.0" lengthAdjust="spacingAndGlyphs" transform="rotate(0.03 284 466.0)">8</text>
<text x="324.0" y="466.02" text-anchor="end" textLength="25.5" lengthAdjust="spacingAndGlyphs" transform="rotate(0.03 311 466.0)">19.9%</text>
<text x="412.8" y="466.02" text-anchor="end" textLength="73.7" lengthAdjust="spacingAndGlyphs" transform="rotate(0.03 376 466.0)">7.60 [-3.16, 18.36]</text>
<text x="421.3" y="466.02" textLength="20.1" lengthAdjust="spacingAndGlyphs" transform="rotate(0.03 431 466.0)">2021</text>
<line x1="554.4" y1="460.3" x2="612.5" y2="460.3" stroke="#404040" stroke-width="1"/>
<rect x="581.2" y="458.4" width="4.3" height="4.3" fill="#00c400"/>
<text x="15.8" y="489.42" font-weight="700" textLength="57.0" lengthAdjust="spacingAndGlyphs" font-size="10.0" class="b" transform="rotate(0.03 44 489.4)">Total (95% CI)</text>
<text x="200.6" y="489.42" text-anchor="end" font-weight="700" textLength="14.7" lengthAdjust="spacingAndGlyphs" font-size="10.0" class="b" transform="rotate(0.03 193 489.4)">126</text>
<text x="286.4" y="489.42" text-anchor="end" font-weight="700" textLength="9.8" lengthAdjust="spacingAndGlyphs" font-size="10.0" class="b" transform="rotate(0.03 281 489.4)">67</text>
<text x="324.0" y="489.42" text-anchor="end" font-weight="700" textLength="29.3" lengthAdjust="spacingAndGlyphs" font-size="10.0" class="b" transform="rotate(0.03 309 489.4)">100.0%</text>
<text x="412.8" y="489.42" text-anchor="end" font-weight="700" textLength="76.9" lengthAdjust="spacingAndGlyphs" font-size="10.0" class="b" transform="rotate(0.03 374 489.4)">10.31 [0.96, 19.67]</text>
<text x="15.9" y="502.15" textLength="282.2" lengthAdjust="spacingAndGlyphs" transform="rotate(0.03 157 502.1)">Heterogeneity: Tau² = 84.41; Chi² = 17.41, df = 4 (P = 0.002); I² = 77%</text>
<text x="15.9" y="514.15" textLength="164.6" lengthAdjust="spacingAndGlyphs" transform="rotate(0.03 98 514.1)">Test for overall effect: Z = 2.16 (P = 0.03)</text>
<polygon points="565.9,484.3 590.9,479.0 616.0,484.3 590.9,489.6" fill="#000"/>
<line x1="449.7" y1="496.3" x2="677.4" y2="496.3" stroke="#303030" stroke-width="1.05"/>
<line x1="563.5" y1="406.3" x2="563.5" y2="499.0" stroke="#404040" stroke-width="1.05"/>
<line x1="509.7" y1="493.3" x2="509.7" y2="499.0" stroke="#3a3a3a" stroke-width="1"/>
<text x="510.0" y="508.58" text-anchor="middle" textLength="13.0" lengthAdjust="spacingAndGlyphs" fill="#222" transform="rotate(0.03 510 508.6)">-20</text>
<line x1="536.5" y1="493.3" x2="536.5" y2="499.0" stroke="#3a3a3a" stroke-width="1"/>
<text x="536.8" y="508.58" text-anchor="middle" textLength="13.0" lengthAdjust="spacingAndGlyphs" fill="#222" transform="rotate(0.03 537 508.6)">-10</text>
<text x="563.8" y="508.58" text-anchor="middle" textLength="5.0" lengthAdjust="spacingAndGlyphs" fill="#222" transform="rotate(0.03 564 508.6)">0</text>
<line x1="590.1" y1="493.3" x2="590.1" y2="499.0" stroke="#3a3a3a" stroke-width="1"/>
<text x="590.6" y="508.58" text-anchor="middle" textLength="10.0" lengthAdjust="spacingAndGlyphs" fill="#222" transform="rotate(0.03 591 508.6)">10</text>
<line x1="616.9" y1="493.3" x2="616.9" y2="499.0" stroke="#3a3a3a" stroke-width="1"/>
<text x="617.4" y="508.58" text-anchor="middle" textLength="10.0" lengthAdjust="spacingAndGlyphs" fill="#222" transform="rotate(0.03 617 508.6)">20</text>
<text x="491.1" y="519.70" textLength="67.8" lengthAdjust="spacingAndGlyphs" fill="#222" transform="rotate(0.03 525 519.7)">Favours [control]</text>
<text x="567.0" y="519.70" textLength="94.0" lengthAdjust="spacingAndGlyphs" fill="#222" transform="rotate(0.03 614 519.7)">Favours [experimental]</text>
</svg>
</body></html>
